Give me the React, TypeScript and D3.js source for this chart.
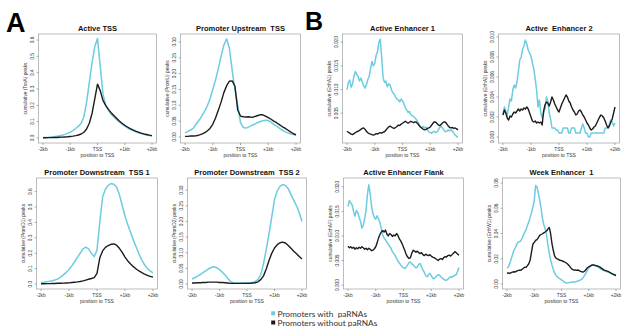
import React from "react";
import * as d3 from "d3";

// ---------- shared axis data ----------
const positionsCoarse = d3.range(-2000, 2001, 100); // bp to TSS, 100bp bins
const positionsFine = d3.range(-2000, 2001, 50); // bp to TSS, 50bp bins
const xTickValues = [-2000, -1000, 0, 1000, 2000];
const xTickLabels = ["-2kb", "-1kb", "TSS", "+1kb", "+2kb"];
const seriesNames = ["Promoters with  paRNAs", "Promoters without paRNAs"];

// ---------- A: promoter states (100bp bins) ----------
const activeTssWith = [
  0.002, 0.003, 0.004, 0.006, 0.008, 0.01, 0.013, 0.017, 0.022, 0.028,
  0.035, 0.045, 0.058, 0.072, 0.09, 0.13, 0.22, 0.34, 0.46, 0.56,
  0.61,
  0.44, 0.27, 0.2, 0.17, 0.145, 0.128, 0.112, 0.098, 0.085, 0.073,
  0.062, 0.053, 0.045, 0.038, 0.032, 0.027, 0.022, 0.018, 0.015, 0.012,
];
const activeTssWithout = [
  0.001, 0.001, 0.002, 0.002, 0.003, 0.003, 0.004, 0.005, 0.006, 0.007,
  0.009, 0.011, 0.014, 0.018, 0.024, 0.035, 0.055, 0.09, 0.15, 0.24,
  0.33,
  0.29, 0.23, 0.2, 0.175, 0.155, 0.137, 0.12, 0.104, 0.09, 0.078,
  0.067, 0.057, 0.049, 0.042, 0.036, 0.03, 0.025, 0.021, 0.017, 0.014,
];
const activeTssYTicks = [0, 0.1, 0.2, 0.3, 0.4, 0.5, 0.6];

const promUpWith = [
  0.013, 0.017, 0.022, 0.028, 0.04, 0.052, 0.065, 0.08, 0.097, 0.12,
  0.15, 0.18, 0.215, 0.255, 0.29, 0.31, 0.28, 0.21, 0.15, 0.1,
  0.045,
  0.03, 0.028, 0.032, 0.036, 0.04, 0.045, 0.048, 0.051, 0.053, 0.052,
  0.047, 0.04, 0.034, 0.028, 0.022, 0.017, 0.013, 0.01, 0.008, 0.006,
];
const promUpWithout = [
  0.002, 0.002, 0.003, 0.003, 0.004, 0.006, 0.009, 0.013, 0.019, 0.027,
  0.04, 0.06, 0.084, 0.11, 0.14, 0.162, 0.176, 0.177, 0.16, 0.085,
  0.066,
  0.064, 0.063, 0.064, 0.062, 0.064, 0.067, 0.07, 0.07, 0.066, 0.061,
  0.056, 0.05, 0.045, 0.039, 0.033, 0.028, 0.022, 0.016, 0.011, 0.007,
];
const promUpYTicks = [0, 0.05, 0.1, 0.15, 0.2, 0.25, 0.3];

const promD1With = [
  0.01, 0.012, 0.015, 0.018, 0.022, 0.027, 0.033, 0.045, 0.06, 0.076,
  0.095, 0.118, 0.145, 0.173, 0.2, 0.228, 0.24, 0.228, 0.2, 0.178,
  0.22,
  0.4, 0.565, 0.615, 0.64, 0.652, 0.648, 0.63, 0.58, 0.51, 0.44,
  0.385, 0.335, 0.285, 0.24, 0.195, 0.155, 0.125, 0.1, 0.085, 0.072,
];
const promD1Without = [
  0.002, 0.002, 0.003, 0.003, 0.004, 0.004, 0.005, 0.005, 0.006, 0.007,
  0.008, 0.01, 0.012, 0.014, 0.017, 0.021, 0.026, 0.031, 0.036, 0.042,
  0.07,
  0.17, 0.215, 0.238, 0.25, 0.258, 0.26, 0.252, 0.232, 0.205, 0.175,
  0.15, 0.13, 0.113, 0.098, 0.085, 0.074, 0.065, 0.057, 0.05, 0.045,
];
const promD1YTicks = [0, 0.1, 0.2, 0.3, 0.4, 0.5, 0.6];

const promD2With = [
  0.016, 0.02, 0.025, 0.03, 0.036, 0.042, 0.048, 0.053, 0.055, 0.052,
  0.046, 0.038, 0.029, 0.018, 0.008, 0.004, 0.003, 0.003, 0.003, 0.003,
  0.004,
  0.004, 0.005, 0.008, 0.015, 0.03, 0.065, 0.11, 0.16, 0.215, 0.27,
  0.298, 0.312, 0.318, 0.315, 0.305, 0.285, 0.268, 0.25, 0.228, 0.2,
];
const promD2Without = [
  0.003, 0.003, 0.004, 0.004, 0.005, 0.005, 0.006, 0.006, 0.006, 0.006,
  0.005, 0.005, 0.004, 0.003, 0.002, 0.002, 0.002, 0.002, 0.002, 0.002,
  0.002,
  0.002, 0.003, 0.004, 0.007, 0.014, 0.026, 0.048, 0.075, 0.098, 0.115,
  0.126, 0.132, 0.134, 0.131, 0.123, 0.114, 0.105, 0.097, 0.088, 0.08,
];
const promD2YTicks = [0, 0.05, 0.1, 0.15, 0.2, 0.25, 0.3];

// ---------- B: enhancer states (50bp bins) ----------
const enhA1With = [
  0.01, 0.0115, 0.012, 0.0105, 0.0112, 0.0128, 0.0138, 0.0132, 0.0128, 0.0118,
  0.0124, 0.0116, 0.0108, 0.0103, 0.011, 0.0121, 0.0128, 0.0145, 0.0159, 0.015,
  0.0155, 0.0172, 0.018, 0.02, 0.0206, 0.0168, 0.0125, 0.0115, 0.0118, 0.0106,
  0.0112, 0.011, 0.01, 0.0093, 0.009, 0.0084, 0.008, 0.0078, 0.0074, 0.008,
  0.0076,
  0.007, 0.0062, 0.0057, 0.0052, 0.0054, 0.0047, 0.0045, 0.0043, 0.004, 0.0037,
  0.0032, 0.0026, 0.002, 0.0018, 0.0022, 0.0019, 0.0021, 0.0015, 0.0011, 0.0009,
  0.0008, 0.001, 0.0012, 0.0009, 0.0011, 0.0016, 0.0021, 0.0022, 0.0018, 0.0014,
  0.0011, 0.0012, 0.0015, 0.0013, 0.0015, 0.0012, 0.0008, 0.0004, 0.0001, 0.0,
];
const enhA1Without = [
  0.0012, 0.001, 0.0008, 0.0006, 0.0005, 0.0007, 0.0009, 0.0011, 0.0012, 0.0014,
  0.0016, 0.0018, 0.0019, 0.0016, 0.0012, 0.0009, 0.0007, 0.0006, 0.0005, 0.0004,
  0.0005, 0.0007, 0.0006, 0.0008, 0.0009, 0.0008, 0.001, 0.0011, 0.0014, 0.0018,
  0.0021, 0.0023, 0.0021, 0.0019, 0.0018, 0.002, 0.0022, 0.0025, 0.0024, 0.0027,
  0.0029,
  0.0031, 0.0033, 0.0031, 0.0029, 0.0031, 0.0033, 0.0032, 0.003, 0.0032, 0.0031,
  0.0028, 0.0024, 0.0021, 0.0019, 0.0016, 0.0015, 0.0016, 0.0018, 0.0019, 0.0021,
  0.0025, 0.0029, 0.0032, 0.0031, 0.0028, 0.0025, 0.0024, 0.0027, 0.003, 0.0032,
  0.0031, 0.0027, 0.0023, 0.002, 0.0019, 0.002, 0.0018, 0.0019, 0.0017, 0.0015,
];
const enhA1YTicks = [0.005, 0.01, 0.015, 0.02];

const enhA2With = [
  0.0022, 0.003, 0.0026, 0.0021, 0.003, 0.0038, 0.0036, 0.0047, 0.0052, 0.0049,
  0.0055, 0.0066, 0.0077, 0.008, 0.0088, 0.0091, 0.0097, 0.0093, 0.0087, 0.0084,
  0.0081, 0.0074, 0.0068, 0.0058, 0.0047, 0.003, 0.0037, 0.0024, 0.0019, 0.0024,
  0.0028, 0.004, 0.0036, 0.0024, 0.0018, 0.0009, 0.0009, 0.0009, 0.0007, 0.0007,
  0.0004,
  0.0004, 0.0004, 0.0009, 0.0009, 0.0009, 0.0009, 0.0004, 0.0004, 0.0009, 0.0009,
  0.0009, 0.0004, 0.0004, 0.0004, 0.0004, 0.0009, 0.0013, 0.0009, 0.0004, 0.0004,
  0.0, 0.0, 0.0004, 0.0004, 0.0004, 0.0004, 0.0004, 0.0004, 0.0004, 0.0004,
  0.0004, 0.0004, 0.0009, 0.0009, 0.001, 0.0013, 0.0017, 0.0015, 0.0011, 0.0014,
];
const enhA2Without = [
  0.0022, 0.0027, 0.0024, 0.0019, 0.0017, 0.0021, 0.002, 0.0023, 0.0025, 0.0024,
  0.0026, 0.0028, 0.0026, 0.0028, 0.0027, 0.0029, 0.0028, 0.003, 0.0028, 0.0024,
  0.002, 0.0016, 0.0015, 0.0016, 0.0014, 0.0015, 0.0014, 0.0015, 0.0012, 0.0026,
  0.0032, 0.0035, 0.0034, 0.0031, 0.0035, 0.004, 0.0037, 0.0033, 0.003, 0.0027,
  0.0025,
  0.0029, 0.0033, 0.0036, 0.0039, 0.0042, 0.004, 0.0036, 0.0034, 0.003, 0.0027,
  0.0025, 0.0022, 0.0023, 0.0026, 0.0027, 0.0025, 0.0022, 0.002, 0.0017, 0.0014,
  0.0012, 0.0009, 0.0007, 0.0008, 0.001, 0.0011, 0.0014, 0.0017, 0.002, 0.0022,
  0.0021, 0.0019, 0.0016, 0.0012, 0.0009, 0.0011, 0.0015, 0.0018, 0.0024, 0.003,
];
const enhA2YTicks = [0, 0.002, 0.004, 0.006, 0.008, 0.01];

const enhAFWith = [
  0.016, 0.0172, 0.0168, 0.0163, 0.015, 0.014, 0.0152, 0.0148, 0.0138, 0.013,
  0.0116, 0.0122, 0.0135, 0.0152, 0.0185, 0.0204, 0.0185, 0.016, 0.0145, 0.0138,
  0.0134, 0.0141, 0.0135, 0.0127, 0.0115, 0.0102, 0.0096, 0.0092, 0.0088, 0.0083,
  0.0079, 0.0075, 0.0068, 0.0064, 0.006, 0.0054, 0.0049, 0.0045, 0.0041, 0.0037,
  0.0035,
  0.0034, 0.0037, 0.0041, 0.0046, 0.0047, 0.0043, 0.0041, 0.0038, 0.0035, 0.0037,
  0.0042, 0.0044, 0.0037, 0.0031, 0.0026, 0.0019, 0.0017, 0.0021, 0.0024, 0.0019,
  0.0014, 0.0013, 0.0016, 0.0019, 0.0021, 0.002, 0.0017, 0.0014, 0.0012, 0.001,
  0.001, 0.0012, 0.0015, 0.0017, 0.0016, 0.0018, 0.002, 0.0021, 0.0028, 0.0036,
];
const enhAFWithout = [
  0.0079, 0.0076, 0.0078, 0.0075, 0.0077, 0.0073, 0.0076, 0.0074, 0.0077, 0.0075,
  0.0078, 0.0076, 0.0073, 0.0075, 0.0072, 0.0075, 0.0073, 0.007, 0.0071, 0.0074,
  0.0078, 0.0086, 0.0096, 0.0103, 0.0108, 0.0111, 0.0108, 0.0112, 0.0104, 0.01,
  0.0105, 0.0103, 0.0099, 0.0102, 0.01, 0.0105, 0.0101, 0.0094, 0.009, 0.0084,
  0.0077,
  0.007, 0.0062, 0.0057, 0.0054, 0.0056, 0.0065, 0.0071, 0.0069, 0.0067, 0.0069,
  0.0066, 0.0064, 0.0066, 0.0062, 0.006, 0.0063, 0.0061, 0.006, 0.0062, 0.0059,
  0.0057, 0.0056, 0.0054, 0.0052, 0.005, 0.0053, 0.0054, 0.0052, 0.0056, 0.0058,
  0.0057, 0.006, 0.0061, 0.0059, 0.0062, 0.0065, 0.0068, 0.0066, 0.0063, 0.0061,
];
const enhAFYTicks = [0, 0.005, 0.01, 0.015, 0.02];

const enhW1With = [
  0.0125, 0.0135, 0.016, 0.0195, 0.023, 0.0265, 0.0285, 0.031, 0.033, 0.0335,
  0.034, 0.036, 0.0385, 0.041, 0.043, 0.0465, 0.049, 0.053, 0.0565, 0.061,
  0.066, 0.078, 0.077, 0.072, 0.0665, 0.06, 0.052, 0.047, 0.044, 0.039,
  0.031, 0.0245, 0.019, 0.015, 0.0115, 0.0085, 0.0068, 0.0056, 0.0047, 0.004,
  0.0032,
  0.0024, 0.0016, 0.001, 0.0008, 0.0009, 0.0011, 0.0013, 0.0015, 0.0016, 0.0018,
  0.002, 0.0023, 0.0027, 0.0032, 0.004, 0.0052, 0.0068, 0.0088, 0.0108, 0.0125,
  0.0138, 0.0148, 0.0151, 0.0147, 0.0143, 0.014, 0.0134, 0.0126, 0.0118, 0.0111,
  0.0106, 0.0102, 0.0098, 0.0095, 0.009, 0.0086, 0.0082, 0.0079, 0.0075, 0.0071,
];
const enhW1Without = [
  0.0085, 0.0088, 0.0083, 0.009, 0.0094, 0.0097, 0.0095, 0.0101, 0.0106, 0.011,
  0.0108, 0.0115, 0.0124, 0.0133, 0.0131, 0.0145, 0.016, 0.019, 0.0255, 0.0315,
  0.033, 0.0345, 0.0352, 0.0368, 0.0385, 0.0392, 0.0398, 0.0405, 0.0412, 0.042,
  0.0435, 0.0448, 0.04, 0.032, 0.0265, 0.022, 0.0205, 0.0198, 0.0192, 0.0188,
  0.0185,
  0.018, 0.0176, 0.017, 0.0162, 0.0152, 0.014, 0.0125, 0.0115, 0.011, 0.0112,
  0.0108, 0.0111, 0.0106, 0.01, 0.0097, 0.0095, 0.0102, 0.0115, 0.0128, 0.0136,
  0.0142, 0.0148, 0.0151, 0.015, 0.0146, 0.0143, 0.014, 0.0135, 0.0127, 0.012,
  0.0112, 0.0108, 0.0104, 0.01, 0.0095, 0.0088, 0.0082, 0.0076, 0.0071, 0.0067,
];
const enhW1YTicks = [0, 0.02, 0.04, 0.06, 0.08];

// ---------- styling / layout ----------
const BLUE = "#6dcbe2";
const BLACK = "#1c1c1c";
const TEXT = "#3a3a3a";
const FONT = "'Liberation Sans', Arial, sans-serif";

type Layout = { x0: number; x1: number; top: number; bottom: number };
type Spec = {
  title: string;
  yLabel: string;
  positions: number[];
  withP: number[];
  withoutP: number[];
  yTicks: number[];
  yDomain: [number, number];
  fmt: string;
  layout: Layout;
};

const TOP_ROW = { top: 34, bottom: 143 };
const BOT_ROW = { top: 178, bottom: 289 };

const panels: Spec[] = [
  { title: "Active TSS", yLabel: "cumulative (TssA) peaks", positions: positionsCoarse, withP: activeTssWith, withoutP: activeTssWithout, yTicks: activeTssYTicks, yDomain: [-0.031, 0.637], fmt: ".1f", layout: { x0: 43, x1: 152, ...TOP_ROW } },
  { title: "Promoter Upstream  TSS", yLabel: "cumulative (PromU) peaks", positions: positionsCoarse, withP: promUpWith, withoutP: promUpWithout, yTicks: promUpYTicks, yDomain: [-0.019, 0.325], fmt: ".2f", layout: { x0: 185, x1: 296, ...TOP_ROW } },
  { title: "Promoter Downstream  TSS 1", yLabel: "cumulative (PromD1) peaks", positions: positionsCoarse, withP: promD1With, withoutP: promD1Without, yTicks: promD1YTicks, yDomain: [-0.032, 0.688], fmt: ".1f", layout: { x0: 41, x1: 153, ...BOT_ROW } },
  { title: "Promoter Downstream  TSS 2", yLabel: "cumulative (PromD2) peaks", positions: positionsCoarse, withP: promD2With, withoutP: promD2Without, yTicks: promD2YTicks, yDomain: [-0.016, 0.339], fmt: ".2f", layout: { x0: 192, x1: 302, ...BOT_ROW } },
  { title: "Active Enhancer 1", yLabel: "cumulative (EnhA1) peaks", positions: positionsFine, withP: enhA1With, withoutP: enhA1Without, yTicks: enhA1YTicks, yDomain: [-0.00127, 0.0217], fmt: ".3f", layout: { x0: 347, x1: 458, ...TOP_ROW } },
  { title: "Active  Enhancer 2", yLabel: "cumulative (EnhA2) peaks", positions: positionsFine, withP: enhA2With, withoutP: enhA2Without, yTicks: enhA2YTicks, yDomain: [-0.0006, 0.0103], fmt: ".3f", layout: { x0: 503, x1: 615, ...TOP_ROW } },
  { title: "Active Enhancer Flank", yLabel: "cumulative (EnhAF) peaks", positions: positionsFine, withP: enhAFWith, withoutP: enhAFWithout, yTicks: enhAFYTicks, yDomain: [-0.0008, 0.0218], fmt: ".3f", layout: { x0: 348, x1: 459, ...BOT_ROW } },
  { title: "Week Enhancer  1", yLabel: "cumulative (EnhW1) peaks", positions: positionsFine, withP: enhW1With, withoutP: enhW1Without, yTicks: enhW1YTicks, yDomain: [-0.004, 0.084], fmt: ".2f", layout: { x0: 507, x1: 616, ...BOT_ROW } },
];

function Panel({ spec }: { spec: Spec }) {
  const { x0, x1, top, bottom } = spec.layout;
  const x = d3.scaleLinear().domain([-2000, 2000]).range([x0, x1]);
  const left = x(-2160);
  const right = x(2160);
  const y = d3.scaleLinear().domain(spec.yDomain).range([bottom, top]);
  const line = d3
    .line<number>()
    .x((_, i) => x(spec.positions[i]))
    .y((d) => y(d));
  const fmt = d3.format(spec.fmt);
  const cx = (left + right) / 2;
  const cy = (top + bottom) / 2;
  return (
    <g>
      <text x={cx} y={top - 3} textAnchor="middle" fontFamily={FONT} fontWeight="bold" fontSize={7.5} fill="#111" style={{ whiteSpace: "pre" }}>
        {spec.title}
      </text>
      <rect x={left} y={top} width={right - left} height={bottom - top} fill="none" stroke="#a0a0a0" strokeWidth={0.7} />
      {spec.yTicks.map((t) => (
        <g key={t}>
          <line x1={left - 2} x2={left} y1={y(t)} y2={y(t)} stroke="#777" strokeWidth={0.6} />
          <text transform={`translate(${left - 4.5},${y(t)}) rotate(-90)`} textAnchor="middle" fontFamily={FONT} fontSize={4.8} fill={TEXT}>
            {fmt(t)}
          </text>
        </g>
      ))}
      <text transform={`translate(${left - 12},${cy}) rotate(-90)`} textAnchor="middle" fontFamily={FONT} fontSize={4.8} fill={TEXT}>
        {spec.yLabel}
      </text>
      {xTickValues.map((t, i) => (
        <g key={t}>
          <line x1={x(t)} x2={x(t)} y1={bottom} y2={bottom + 2} stroke="#777" strokeWidth={0.6} />
          <text x={x(t)} y={bottom + 7.5} textAnchor="middle" fontFamily={FONT} fontSize={4.8} fill={TEXT}>
            {xTickLabels[i]}
          </text>
        </g>
      ))}
      <text x={cx} y={bottom + 14} textAnchor="middle" fontFamily={FONT} fontSize={5} fill={TEXT}>
        position to TSS
      </text>
      <path d={line(spec.withP) || ""} fill="none" stroke={BLUE} strokeWidth={1.5} strokeLinejoin="round" />
      <path d={line(spec.withoutP) || ""} fill="none" stroke={BLACK} strokeWidth={1.4} strokeLinejoin="round" />
    </g>
  );
}

export default function App() {
  const legendColors = [BLUE, BLACK];
  return (
    <svg width={622} height={330} style={{ position: "absolute", left: 0, top: 0, background: "#fff" }}>
      <rect width={622} height={330} fill="#fff" />
      <text x={6} y={32} fontFamily={FONT} fontWeight="bold" fontSize={27} fill="#000">A</text>
      <text x={305} y={30} fontFamily={FONT} fontWeight="bold" fontSize={25} fill="#000">B</text>
      {panels.map((p) => (
        <Panel key={p.title} spec={p} />
      ))}
      {seriesNames.map((name, i) => (
        <g key={name}>
          <rect x={271.2} y={311.3 + i * 9.2} width={4} height={4} fill={legendColors[i]} />
          <text x={277.5} y={316.8 + i * 9.2} fontFamily="Lato, sans-serif" fontSize={8.3} fill="#333" style={{ whiteSpace: "pre" }}>
            {name}
          </text>
        </g>
      ))}
    </svg>
  );
}
